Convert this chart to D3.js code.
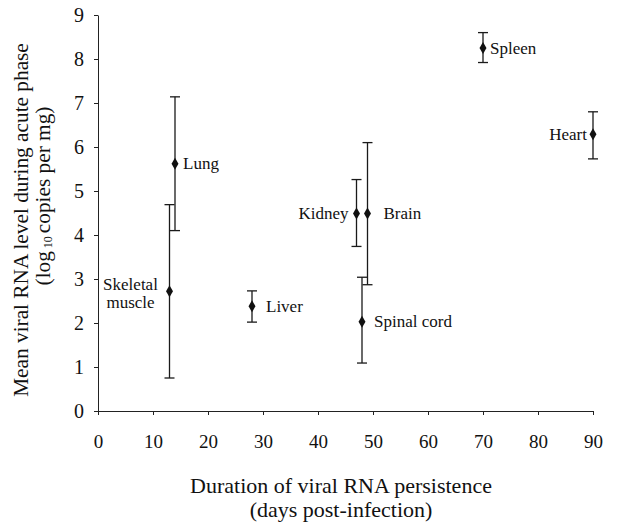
<!DOCTYPE html>
<html>
<head>
<meta charset="utf-8">
<script src="https://cdn.jsdelivr.net/npm/d3@7"></script>
<style>
  body { margin: 0; background: #fff; }
  svg text { font-family: "Liberation Serif", "Times New Roman", Times, serif !important; fill: #111; }
  .axis path, .axis line { stroke: #222; stroke-width: 1; }
</style>
</head>
<body>
<script>
// organ data
var organs  = ["Skeletal muscle", "Lung", "Liver", "Kidney", "Spinal cord", "Brain", "Spleen", "Heart"];
var days    = [13, 14, 28, 47, 48, 49, 70, 90];
var means   = [2.72, 5.62, 2.38, 4.49, 2.03, 4.49, 8.25, 6.29];
var upper   = [4.69, 7.14, 2.73, 5.26, 3.04, 6.10, 8.60, 6.80];
var lower   = [0.75, 4.10, 2.02, 3.74, 1.09, 2.87, 7.92, 5.73];
var xTicks  = [0, 10, 20, 30, 40, 50, 60, 70, 80, 90];
var yTicks  = [0, 1, 2, 3, 4, 5, 6, 7, 8, 9];

// label placement: dx from point, anchor
var labelDx     = [0, 8, 14, -8, 12, 16, 7, -6];
var labelAnchor = ["middle", "start", "start", "end", "start", "start", "start", "end"];

var serif = '"Liberation Serif", "Times New Roman", Times, serif';

var margin = {top: 15, right: 24, bottom: 120, left: 98},
    width = 617 - margin.left - margin.right,
    height = 531 - margin.top - margin.bottom;

var svg = d3.select("body").append("svg")
    .attr("width", 617)
    .attr("height", 531)
    .attr("font-family", serif)
  .append("g")
    .attr("transform", "translate(" + margin.left + "," + margin.top + ")");

var x = d3.scaleLinear().domain([0, 90]).range([0, 495]);
var y = d3.scaleLinear().domain([0, 9]).range([396, 0]);

var xAxis = d3.axisBottom(x).tickValues(xTicks).tickSize(4).tickSizeOuter(0).tickPadding(20);
var yAxis = d3.axisLeft(y).tickValues(yTicks).tickSize(4).tickSizeOuter(0).tickPadding(10);

svg.append("g")
    .attr("class", "x axis")
    .attr("transform", "translate(0," + y(0) + ")")
    .call(xAxis)
    .attr("font-family", serif)
    .selectAll("text").style("font-size", "19px").style("font-family", serif);

svg.append("g")
    .attr("class", "y axis")
    .call(yAxis)
    .attr("font-family", serif)
    .selectAll("text").style("font-size", "20px").style("font-family", serif);

var data = organs.map(function(d, i) {
  return {name: d, day: days[i], mean: means[i], hi: upper[i], lo: lower[i], dx: labelDx[i], anchor: labelAnchor[i]};
});

// error bars
var bars = svg.append("g").selectAll("g.bar")
    .data(data)
  .enter().append("g")
    .attr("class", "bar")
    .style("stroke", "#1a1a1a")
    .style("stroke-width", 1.3);

bars.append("line")
    .attr("x1", function(d) { return x(d.day); })
    .attr("x2", function(d) { return x(d.day); })
    .attr("y1", function(d) { return y(d.hi); })
    .attr("y2", function(d) { return y(d.lo); });

bars.append("line")
    .attr("x1", function(d) { return x(d.day) - 5; })
    .attr("x2", function(d) { return x(d.day) + 5; })
    .attr("y1", function(d) { return y(d.hi); })
    .attr("y2", function(d) { return y(d.hi); });

bars.append("line")
    .attr("x1", function(d) { return x(d.day) - 5; })
    .attr("x2", function(d) { return x(d.day) + 5; })
    .attr("y1", function(d) { return y(d.lo); })
    .attr("y2", function(d) { return y(d.lo); });

// diamond markers
svg.append("g").selectAll("path.pt")
    .data(data)
  .enter().append("path")
    .attr("class", "pt")
    .attr("d", d3.symbol().type(d3.symbolDiamond).size(42))
    .attr("transform", function(d) { return "translate(" + x(d.day) + "," + y(d.mean) + ")"; })
    .style("fill", "#111");

// point labels
var labels = svg.append("g").selectAll("text.lab")
    .data(data)
  .enter().append("text")
    .attr("class", "lab")
    .style("font-size", "17px")
    .style("font-family", serif)
    .style("text-anchor", function(d) { return d.anchor; })
    .attr("y", function(d) { return y(d.mean); });

labels.each(function(d) {
  var t = d3.select(this);
  if (d.name == "Skeletal muscle") {
    t.attr("x", x(d.day) - 39);
    t.append("tspan").attr("x", x(d.day) - 39).attr("dy", "-0.05em").text("Skeletal");
    t.append("tspan").attr("x", x(d.day) - 39).attr("dy", "1.05em").text("muscle");
  } else {
    t.attr("x", x(d.day) + d.dx).attr("dy", "0.33em").text(d.name);
  }
});

// axis titles
var xt = svg.append("text")
    .style("font-size", "22px")
    .style("font-family", serif)
    .style("text-anchor", "middle")
    .attr("x", 243)
    .attr("y", 478);
xt.append("tspan").attr("x", 243).text("Duration of viral RNA persistence");
xt.append("tspan").attr("x", 243).attr("dy", "1.1em").text("(days post-infection)");

var yt = svg.append("text")
    .style("font-size", "21.3px")
    .style("font-family", serif)
    .style("text-anchor", "middle")
    .attr("transform", "translate(-70," + (height / 2 + 7) + ") rotate(-90)");
yt.append("tspan").attr("x", 0).attr("y", 0).text("Mean viral RNA level during acute phase");
var l2 = yt.append("tspan").attr("x", 24).attr("y", 22);
l2.append("tspan").text("(log");
l2.append("tspan").style("font-size", "12px").attr("dy", "2").text(" 10 ");
l2.append("tspan").attr("dy", "-2").text("copies per mg)");
</script>
</body>
</html>
